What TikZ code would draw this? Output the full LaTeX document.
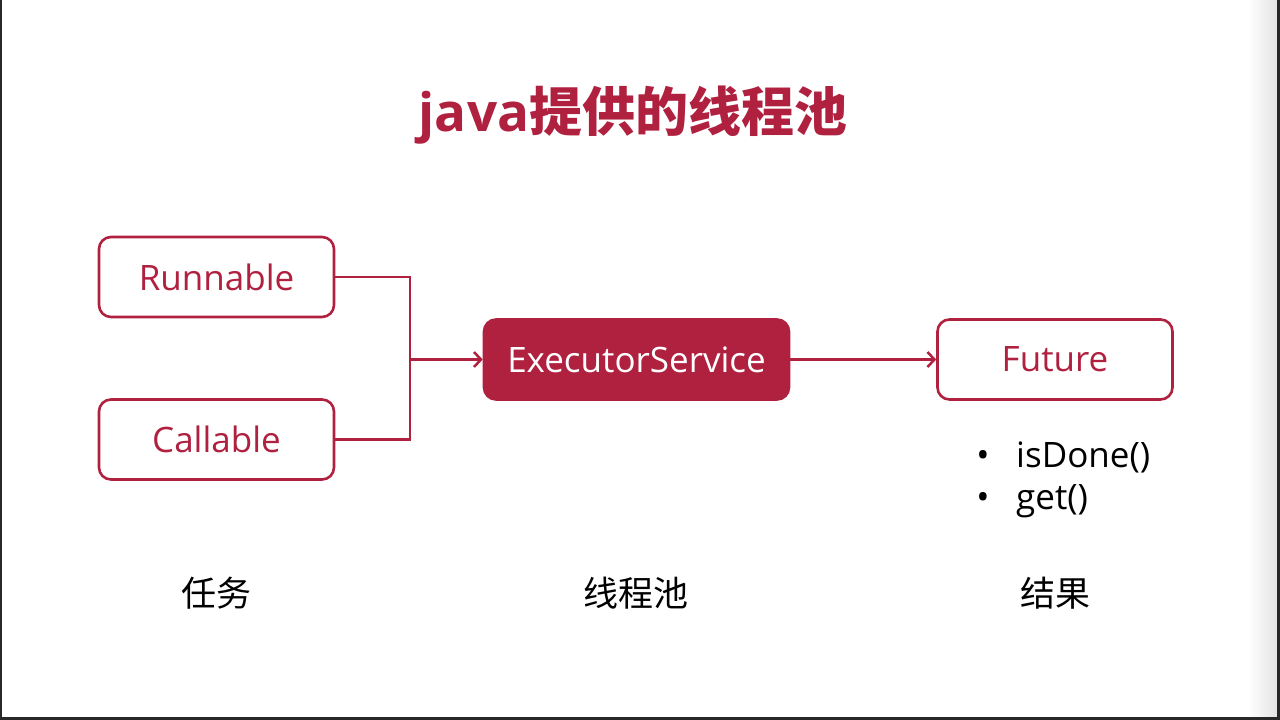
\documentclass[tikz,border=0pt]{standalone}
\usepackage{fontspec}
\setmainfont{Open Sans}
\newfontfamily\cjk{Noto Sans CJK SC}
\usetikzlibrary{arrows.meta}
\definecolor{crim}{RGB}{176,33,64}
\definecolor{frameline}{RGB}{40,40,40}
\definecolor{shade}{RGB}{228,228,228}
\begin{document}
\begin{tikzpicture}[x=1pt,y=-1pt,
  box/.style={draw=crim, line width=2.6pt, rounded corners=12pt, minimum width=235pt,
    minimum height=80pt, inner sep=0pt, text=crim, font=\fontsize{35}{40}\selectfont},
  fillbox/.style={box, fill=crim, text=white, minimum width=305pt},
  conn/.style={draw=crim, line width=2.5pt},
  arr/.style={conn, -{Straight Barb[length=7pt,width=15pt]}},
  lbl/.style={anchor=base, inner sep=0pt, font=\fontsize{35}{40}\selectfont\cjk},
  item/.style={anchor=base west, inner sep=0pt, font=\fontsize{35}{40}\selectfont}]
\useasboundingbox (0,0) rectangle (1280,720);
\fill[white] (0,0) rectangle (1280,720);
\shade[left color=white, right color=shade] (1248,0) rectangle (1277,720);
\fill[frameline] (0,0) rectangle (2,720);
\fill[frameline] (0,717) rectangle (1280,720);
\fill[frameline] (1277,0) rectangle (1280,720);

\node[anchor=base, inner sep=0pt, text=crim, font=\fontsize{53}{60}\selectfont\bfseries] (title) at (633,131) {java{\cjk 提供的线程池}};

\node[box] (run) at (216.5,277) {Runnable};
\node[box] (call) at (216.5,439.5) {Callable};
\node[fillbox] (exec) at (636.5,359.5) {ExecutorService};
\node[box] (fut) at (1055,359.5) {Future};

\coordinate (j) at (410,359.5);
\draw[conn] (run.east) -| (j);
\draw[conn] (call.east) -| (j);
\draw[arr] (j) -- (exec.west);
\draw[arr] (exec.east) -- (fut.west);

\node[item, anchor=base] (b1) at (983,467) {•};
\node[item] (t1) at (1016,467) {isDone()};
\node[item, anchor=base] (b2) at (983,509) {•};
\node[item] (t2) at (1016,509) {get()};

\node[lbl] (l1) at (216,606) {任务};
\node[lbl] (l2) at (636,606) {线程池};
\node[lbl] (l3) at (1055,606) {结果};
\end{tikzpicture}
\end{document}
